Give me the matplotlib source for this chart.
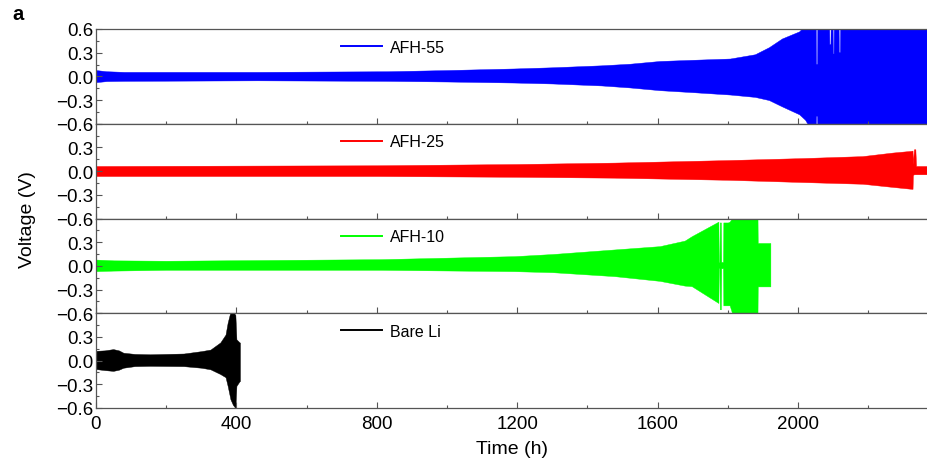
import matplotlib
matplotlib.use("Agg")
import matplotlib.pyplot as plt
from matplotlib.ticker import MultipleLocator
from matplotlib.lines import Line2D

plt.rcParams['font.family'] = ['Liberation Sans', 'DejaVu Sans']

# ---- data: voltage envelopes (upper / lower) vs time (h) ----
t_afh55 = [0, 30, 80, 460, 830, 1000, 1191, 1300, 1440, 1520, 1606, 1700, 1806, 1877,
           1917, 1954, 2003, 2020, 2040, 2050, 2051, 2054, 2055, 2088, 2089, 2092,
           2093, 2098, 2099, 2101, 2102, 2115, 2116, 2119, 2120, 2370]
up_afh55 = [0.08, 0.065, 0.057, 0.057, 0.065, 0.08, 0.10, 0.115, 0.14, 0.16, 0.195, 0.21,
            0.226, 0.28, 0.37, 0.48, 0.57, 0.65, 0.8, 0.8, 0.16, 0.16, 0.8, 0.8, 0.41,
            0.41, 0.8, 0.8, 0.29, 0.29, 0.8, 0.8, 0.31, 0.31, 0.8, 0.8]
lo_afh55 = [-0.073, -0.06, -0.057, -0.05, -0.057, -0.065, -0.078, -0.09, -0.115, -0.14,
            -0.175, -0.2, -0.23, -0.26, -0.30, -0.38, -0.48, -0.55, -0.7, -0.8, -0.5,
            -0.5, -0.8, -0.8, -0.8, -0.8, -0.8, -0.8, -0.8, -0.8, -0.8, -0.8, -0.8,
            -0.8, -0.8, -0.8]

t_afh25 = [0, 800, 1200, 1477, 1800, 2011, 2183, 2269, 2320, 2326, 2327, 2330, 2334,
           2336, 2370]
up_afh25 = [0.065, 0.074, 0.09, 0.108, 0.14, 0.165, 0.19, 0.235, 0.256, 0.26, 0.09,
            0.277, 0.277, 0.065, 0.065]
lo_afh25 = [-0.062, -0.062, -0.072, -0.083, -0.11, -0.138, -0.16, -0.2, -0.223, -0.225,
            -0.05, -0.04, -0.04, -0.04, -0.04]

t_afh10 = [0, 50, 200, 811, 1191, 1300, 1477, 1606, 1677, 1697, 1773, 1774, 1776, 1777,
           1780, 1781, 1786, 1787, 1800, 1805, 1826, 1834, 1883, 1884, 1885, 1921]
up_afh10 = [0.08, 0.07, 0.065, 0.085, 0.123, 0.15, 0.208, 0.25, 0.32, 0.376, 0.56, 0.05,
            0.05, 0.55, 0.55, 0.05, 0.05, 0.55, 0.55, 0.56, 0.7, 0.8, 0.8, 0.8, 0.29, 0.29]
lo_afh10 = [-0.067, -0.06, -0.05, -0.05, -0.067, -0.08, -0.13, -0.19, -0.25, -0.257,
            -0.47, -0.03, -0.03, -0.55, -0.55, -0.03, -0.03, -0.5, -0.5, -0.5, -0.8,
            -0.8, -0.8, -0.8, -0.26, -0.26]

t_bare = [0, 25, 49, 65, 78, 110, 154, 250, 300, 326, 354, 369, 375, 383, 390, 397,
          400, 409, 410]
up_bare = [0.124, 0.13, 0.146, 0.13, 0.10, 0.085, 0.08, 0.09, 0.12, 0.14, 0.23, 0.33,
           0.48, 0.62, 0.62, 0.58, 0.27, 0.23, 0.23]
lo_bare = [-0.107, -0.12, -0.13, -0.115, -0.09, -0.07, -0.066, -0.07, -0.09, -0.11,
           -0.17, -0.21, -0.32, -0.49, -0.56, -0.6, -0.32, -0.26, -0.26]

labels = ["AFH-55", "AFH-25", "AFH-10", "Bare Li"]
colors = ["#0000ff", "#ff0000", "#00ff00", "#000000"]
series = [(t_afh55, up_afh55, lo_afh55), (t_afh25, up_afh25, lo_afh25),
          (t_afh10, up_afh10, lo_afh10), (t_bare, up_bare, lo_bare)]

yticks = [-0.6, -0.3, 0.0, 0.3, 0.6]
xticks = [0, 400, 800, 1200, 1600, 2000]

fig = plt.figure(figsize=(9.28, 4.6), dpi=100)
left, right = 96 / 928, 1.0
top, bottom = 1 - 30 / 460, 1 - 409 / 460
h = (top - bottom) / 4
axes = []
for i in range(4):
    ax = fig.add_axes([left, top - (i + 1) * h, right - left, h])
    axes.append(ax)

spine_col = "#555555"
for i, (ax, (t, up, lo), lab, col) in enumerate(zip(axes, series, labels, colors)):
    ax.fill_between(t, lo, up, color=col, linewidth=0.3, edgecolor=col)
    ax.set_xlim(0, 2370)
    ax.set_ylim(-0.6, 0.6)
    ax.set_yticks(yticks)
    ylabs = [f"{v:.1f}".replace("-", "\u2212") for v in yticks]
    if i > 0:
        ylabs[-1] = ""
    ax.set_yticklabels(ylabs)
    ax.yaxis.set_minor_locator(MultipleLocator(0.15))
    ax.set_xticks(xticks)
    ax.xaxis.set_minor_locator(MultipleLocator(200))
    ax.tick_params(axis='both', which='both', direction='in', top=False, right=False,
                   color=spine_col, width=0.8)
    ax.tick_params(axis='y', labelsize=13.5, pad=2)
    ax.tick_params(axis='x', labelsize=13.5, pad=5)
    ax.tick_params(which='major', length=4.5)
    ax.tick_params(which='minor', length=2.5)
    for s in ['left', 'bottom', 'top']:
        ax.spines[s].set_color(spine_col)
        ax.spines[s].set_linewidth(0.9)
    ax.spines['right'].set_visible(False)
    if i < 3:
        ax.tick_params(axis='x', labelbottom=False)
    handle = Line2D([], [], color=col, linewidth=1.4)
    ax.legend([handle], [lab], loc='upper left', bbox_to_anchor=(0.2805, 1.005),
              frameon=False, fontsize=11.5, handlelength=2.6, handletextpad=0.5,
              borderaxespad=0.3)

axes[-1].set_xlabel("Time (h)", fontsize=14, labelpad=6)
fig.text(28 / 928, 1 - 220 / 460, "Voltage (V)", rotation=90, fontsize=14,
         ha='center', va='center')
fig.text(12 / 928, 1 - 5 / 460, "a", fontsize=14.5, fontweight='bold', ha='left', va='top')

fig.savefig("out.png", dpi=100)
